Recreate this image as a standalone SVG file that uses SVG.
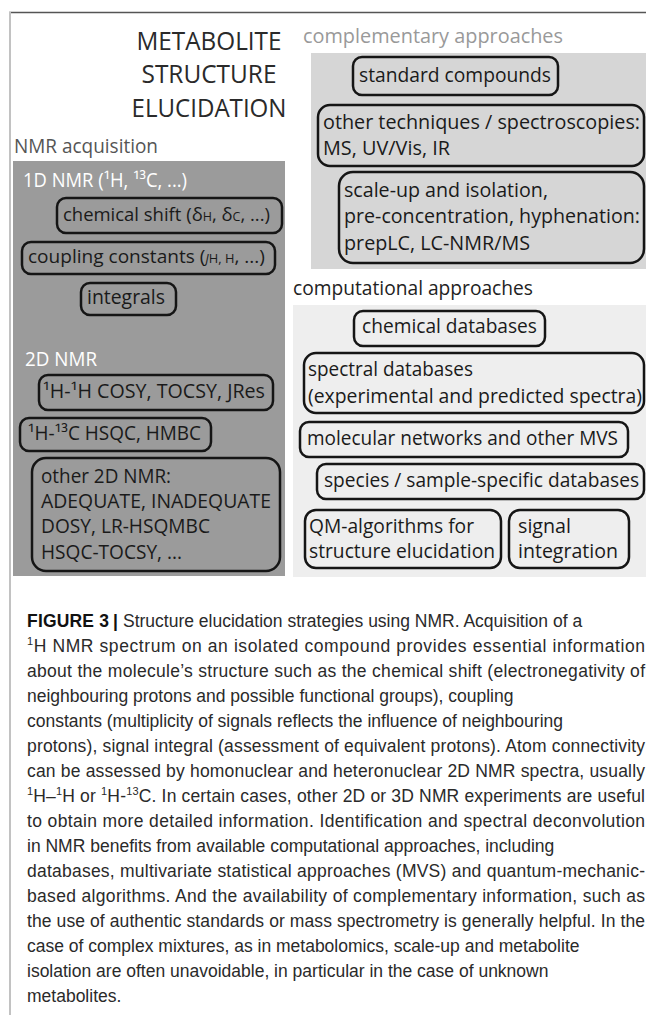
<svg xmlns="http://www.w3.org/2000/svg" width="646" height="1015" viewBox="0 0 646 1015">
<style>
.bg{fill:#ffffff}
.node rect{fill:none;stroke:#151515;stroke-width:2.5}
.t{font-family:"Open Sans","Noto Sans",sans-serif;font-size:19.5px;fill:#1a1a1a}
.title{font-family:"Open Sans","Noto Sans",sans-serif;font-size:25px;fill:#2a2a2a;text-anchor:middle}
.w{fill:#ffffff}
.sub{font-size:12.5px}
.cap{font-family:"Liberation Sans",Arial,sans-serif;font-size:17.5px;fill:#2a2a2a}
.capb{font-family:"Liberation Sans",Arial,sans-serif;font-size:17.5px;fill:#111;font-weight:bold}
.sup{font-size:11px}
</style>
<rect class="bg" x="0" y="0" width="646" height="1015"/>
<line x1="9" y1="12.5" x2="646" y2="12.5" stroke="#555" stroke-width="1.5"/>
<line x1="10" y1="12" x2="10" y2="1015" stroke="#c2c2c2" stroke-width="2"/>

<g id="title">
<text class="title" x="209" y="50" textLength="145" lengthAdjust="spacingAndGlyphs">METABOLITE</text>
<text class="title" x="209" y="83" textLength="135" lengthAdjust="spacingAndGlyphs">STRUCTURE</text>
<text class="title" x="209" y="117" textLength="155" lengthAdjust="spacingAndGlyphs">ELUCIDATION</text>
</g>

<g id="panels">
<rect x="13" y="161" width="272" height="415" fill="#9b9b9b"/>
<rect x="311" y="53" width="335" height="216" fill="#d6d6d6"/>
<rect x="293" y="305" width="353" height="272" fill="#eeeeee"/>
</g>

<g id="labels">
<text class="t" x="14" y="153" style="fill:#555" textLength="144" lengthAdjust="spacingAndGlyphs">NMR acquisition</text>
<text class="t w" x="23" y="187" textLength="164" lengthAdjust="spacingAndGlyphs">1D NMR (¹H, ¹³C, ...)</text>
<text class="t w" x="25" y="366" textLength="72" lengthAdjust="spacingAndGlyphs">2D NMR</text>
<text class="t" x="303" y="43" style="fill:#999" textLength="260" lengthAdjust="spacingAndGlyphs">complementary approaches</text>
<text class="t" x="293" y="295" style="fill:#222" textLength="240" lengthAdjust="spacingAndGlyphs">computational approaches</text>
</g>

<g id="connectors"></g>

<g id="n_chemshift" class="node">
<rect x="57" y="198" width="225" height="35" rx="9"/>
<text class="t" x="63" y="221" style="font-size:18.5px" textLength="207" lengthAdjust="spacingAndGlyphs">chemical shift (δ<tspan class="sub">H</tspan>, δ<tspan class="sub">C</tspan>, ...)</text>
</g>
<g id="n_coupling" class="node">
<rect x="22" y="242" width="253" height="32" rx="9"/>
<text class="t" x="28" y="263" style="font-size:18.5px" textLength="237" lengthAdjust="spacingAndGlyphs">coupling constants (<tspan class="sub" font-style="italic">J</tspan><tspan class="sub">H, H</tspan>, ...)</text>
</g>
<g id="n_integrals" class="node">
<rect x="81" y="283" width="95" height="32" rx="9"/>
<text class="t" x="87" y="304" textLength="78" lengthAdjust="spacingAndGlyphs">integrals</text>
</g>
<g id="n_cosy" class="node">
<rect x="39" y="375" width="234" height="35" rx="9"/>
<text class="t" x="43" y="398" textLength="222" lengthAdjust="spacingAndGlyphs">¹H-¹H COSY, TOCSY, JRes</text>
</g>
<g id="n_hsqc" class="node">
<rect x="20" y="418" width="191" height="33" rx="9"/>
<text class="t" x="28" y="440" textLength="173" lengthAdjust="spacingAndGlyphs">¹H-¹³C HSQC, HMBC</text>
</g>
<g id="n_other2d" class="node">
<rect x="32" y="458" width="248" height="113" rx="14"/>
<text class="t" x="41" y="483" textLength="130" lengthAdjust="spacingAndGlyphs">other 2D NMR:</text>
<text class="t" x="41" y="508" textLength="230" lengthAdjust="spacingAndGlyphs">ADEQUATE, INADEQUATE</text>
<text class="t" x="41" y="533" textLength="169" lengthAdjust="spacingAndGlyphs">DOSY, LR-HSQMBC</text>
<text class="t" x="41" y="559" textLength="141" lengthAdjust="spacingAndGlyphs">HSQC-TOCSY, ...</text>
</g>

<g id="n_standard" class="node">
<rect x="353" y="57" width="205" height="38" rx="9"/>
<text class="t" x="359" y="82" textLength="192" lengthAdjust="spacingAndGlyphs">standard compounds</text>
</g>
<g id="n_othertech" class="node">
<rect x="318" y="105" width="326" height="61" rx="12"/>
<text class="t" x="323" y="129" textLength="317" lengthAdjust="spacingAndGlyphs">other techniques / spectroscopies:</text>
<text class="t" x="323" y="155" textLength="127" lengthAdjust="spacingAndGlyphs">MS, UV/Vis, IR</text>
</g>
<g id="n_scaleup" class="node">
<rect x="339" y="172" width="305" height="91" rx="14"/>
<text class="t" x="344" y="197" textLength="204" lengthAdjust="spacingAndGlyphs">scale-up and isolation,</text>
<text class="t" x="344" y="223" textLength="296" lengthAdjust="spacingAndGlyphs">pre-concentration, hyphenation:</text>
<text class="t" x="344" y="250" textLength="186" lengthAdjust="spacingAndGlyphs">prepLC, LC-NMR/MS</text>
</g>

<g id="n_chemdb" class="node">
<rect x="354" y="311" width="191" height="35" rx="9"/>
<text class="t" x="362" y="333" textLength="175" lengthAdjust="spacingAndGlyphs">chemical databases</text>
</g>
<g id="n_specdb" class="node">
<rect x="304" y="353" width="340" height="60" rx="12"/>
<text class="t" x="308" y="376" textLength="165" lengthAdjust="spacingAndGlyphs">spectral databases</text>
<text class="t" x="308" y="403" textLength="334" lengthAdjust="spacingAndGlyphs">(experimental and predicted spectra)</text>
</g>
<g id="n_molnet" class="node">
<rect x="300" y="422" width="328" height="35" rx="9"/>
<text class="t" x="307" y="445" textLength="311" lengthAdjust="spacingAndGlyphs">molecular networks and other MVS</text>
</g>
<g id="n_species" class="node">
<rect x="317" y="464" width="327" height="35" rx="9"/>
<text class="t" x="324" y="487" textLength="315" lengthAdjust="spacingAndGlyphs">species / sample-specific databases</text>
</g>
<g id="n_qm" class="node">
<rect x="305" y="510" width="196" height="58" rx="11"/>
<text class="t" x="309" y="533" textLength="165" lengthAdjust="spacingAndGlyphs">QM-algorithms for</text>
<text class="t" x="309" y="558" textLength="186" lengthAdjust="spacingAndGlyphs">structure elucidation</text>
</g>
<g id="n_signal" class="node">
<rect x="509" y="510" width="120" height="58" rx="11"/>
<text class="t" x="518" y="533" textLength="53" lengthAdjust="spacingAndGlyphs">signal</text>
<text class="t" x="518" y="558" textLength="100" lengthAdjust="spacingAndGlyphs">integration</text>
</g>

<g id="caption">
<text class="capb" x="27" y="627" textLength="82" lengthAdjust="spacing">FIGURE 3</text>
<text class="capb" x="113" y="627">|</text>
<text class="cap" x="123" y="627">Structure elucidation strategies using NMR. Acquisition of a</text>
<text class="cap" x="27" y="652" textLength="618" lengthAdjust="spacing"><tspan class="sup" dy="-7">1</tspan><tspan dy="7">H NMR spectrum on an isolated compound provides essential information</tspan></text>
<text class="cap" x="27" y="677" textLength="618" lengthAdjust="spacing">about the molecule’s structure such as the chemical shift (electronegativity of</text>
<text class="cap" x="27" y="702">neighbouring protons and possible functional groups), coupling</text>
<text class="cap" x="27" y="727">constants (multiplicity of signals reflects the influence of neighbouring</text>
<text class="cap" x="27" y="752" textLength="618" lengthAdjust="spacing">protons), signal integral (assessment of equivalent protons). Atom connectivity</text>
<text class="cap" x="27" y="777" textLength="618" lengthAdjust="spacing">can be assessed by homonuclear and heteronuclear 2D NMR spectra, usually</text>
<text class="cap" x="27" y="802" textLength="618" lengthAdjust="spacing"><tspan class="sup" dy="-7">1</tspan><tspan dy="7">H–</tspan><tspan class="sup" dy="-7">1</tspan><tspan dy="7">H or </tspan><tspan class="sup" dy="-7">1</tspan><tspan dy="7">H-</tspan><tspan class="sup" dy="-7">13</tspan><tspan dy="7">C. In certain cases, other 2D or 3D NMR experiments are useful</tspan></text>
<text class="cap" x="27" y="827" textLength="618" lengthAdjust="spacing">to obtain more detailed information. Identification and spectral deconvolution</text>
<text class="cap" x="27" y="852">in NMR benefits from available computational approaches, including</text>
<text class="cap" x="27" y="877" textLength="618" lengthAdjust="spacing">databases, multivariate statistical approaches (MVS) and quantum-mechanic-</text>
<text class="cap" x="27" y="902" textLength="618" lengthAdjust="spacing">based algorithms. And the availability of complementary information, such as</text>
<text class="cap" x="27" y="927" textLength="618" lengthAdjust="spacing">the use of authentic standards or mass spectrometry is generally helpful. In the</text>
<text class="cap" x="27" y="952">case of complex mixtures, as in metabolomics, scale-up and metabolite</text>
<text class="cap" x="27" y="977">isolation are often unavoidable, in particular in the case of unknown</text>
<text class="cap" x="27" y="1002">metabolites.</text>
</g>
</svg>
